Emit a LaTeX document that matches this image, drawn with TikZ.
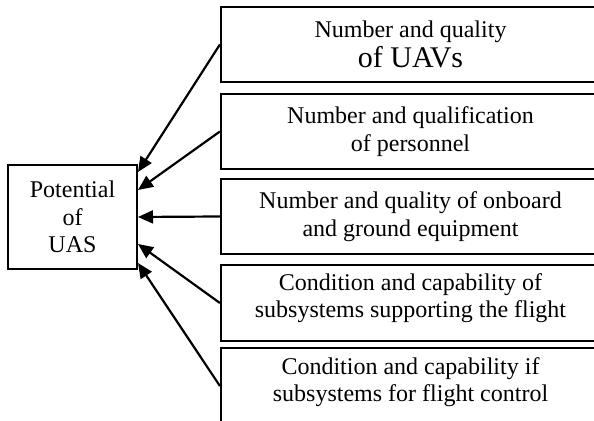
\documentclass[tikz,border=0pt]{standalone}
\usepackage{fontspec}
\setmainfont{Liberation Serif}
\usetikzlibrary{arrows.meta}
\begin{document}
\begin{tikzpicture}[x=0.5pt,y=-0.5pt,
  every node/.style={font=\fontsize{12}{13.8}\selectfont},
  factor/.style={draw,line width=1.1pt,minimum width=189.5pt,inner sep=0pt,align=center},
  ftext/.style={inner sep=0pt,align=center},
  mainbox/.style={draw,line width=1pt,minimum width=64.5pt,minimum height=52pt,inner sep=0pt,align=center},
  arr/.style={line width=1.1pt,-{Triangle[length=7.5pt,width=6.5pt]}}]
\useasboundingbox (0,0) rectangle (594,421);
\node[mainbox] (p) at (72.5,217) {Potential\\of\\UAS};
\node[factor,minimum height=37.5pt] (b1) at (410.5,44.5) {Number and quality\\[1pt]{\fontsize{15}{17}\selectfont of UAVs}};
\node[factor,minimum height=37.5pt] (b2) at (410.5,131.5) {Number and qualification\\of personnel};
\node[factor,minimum height=37.5pt] (b3) at (410.5,216.5) {Number and quality of onboard\\and ground equipment};
\node[factor,minimum height=38pt] (b4) at (410.5,303) {};
\node[ftext] (t4) at (410.5,298) {Condition and capability of\\subsystems supporting the flight};
\node[factor,minimum height=38pt] (b5) at (410.5,386) {};
\node[ftext] (t5) at (410.5,382) {Condition and capability if\\subsystems for flight control};
\draw[arr] (b1.west) -- ([yshift=22.5pt]p.east);
\draw[arr] (b2.west) -- ([yshift=13.5pt]p.east);
\draw[arr] (b3.west) -- (p.east);
\draw[arr] (b4.west) -- ([yshift=-13.5pt]p.east);
\draw[arr] (b5.west) -- ([yshift=-23pt]p.east);
\end{tikzpicture}
\end{document}
